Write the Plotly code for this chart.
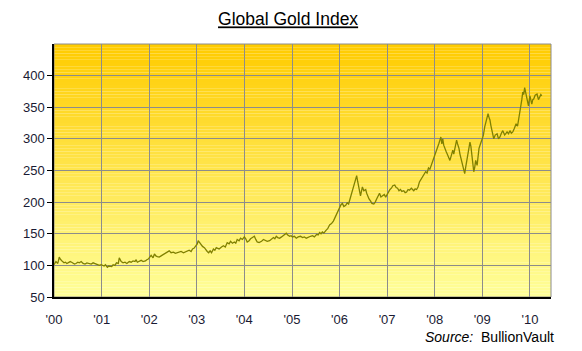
import plotly.graph_objects as go
import pandas as pd
import numpy as np

# Time as decimal years, index values
years = [
    2000.00, 2000.02, 2000.04, 2000.08, 2000.11, 2000.13, 2000.15, 2000.18, 2000.21, 2000.24,
    2000.27, 2000.30, 2000.34, 2000.37, 2000.40, 2000.43, 2000.46, 2000.50, 2000.53, 2000.57,
    2000.61, 2000.65, 2000.69, 2000.73, 2000.78, 2000.82, 2000.86, 2000.90, 2000.95, 2000.99,
    2001.05, 2001.08, 2001.12, 2001.15, 2001.18, 2001.21, 2001.24, 2001.28, 2001.31, 2001.35,
    2001.37, 2001.39, 2001.41, 2001.45, 2001.49, 2001.53, 2001.58, 2001.62, 2001.66, 2001.70,
    2001.72, 2001.75, 2001.79, 2001.83, 2001.87, 2001.92, 2001.95, 2001.98,
    2002.04, 2002.08, 2002.11, 2002.14, 2002.17, 2002.21, 2002.25, 2002.30, 2002.34, 2002.38,
    2002.42, 2002.46, 2002.51, 2002.55, 2002.59, 2002.63, 2002.67, 2002.72, 2002.76, 2002.80,
    2002.84, 2002.88, 2002.91, 2002.94, 2002.97,
    2003.01, 2003.03, 2003.06, 2003.09, 2003.12, 2003.16, 2003.19, 2003.22, 2003.25, 2003.28,
    2003.31, 2003.35, 2003.38, 2003.41, 2003.44, 2003.47, 2003.52, 2003.56, 2003.60, 2003.64,
    2003.68, 2003.71, 2003.75, 2003.79, 2003.82, 2003.85, 2003.89, 2003.92, 2003.96,
    2004.00, 2004.03, 2004.06, 2004.10, 2004.13, 2004.17, 2004.21, 2004.24, 2004.27, 2004.31,
    2004.36, 2004.40, 2004.44, 2004.48, 2004.53, 2004.57, 2004.61, 2004.64, 2004.67, 2004.70,
    2004.74, 2004.78, 2004.82, 2004.85, 2004.88, 2004.91, 2004.95, 2004.98,
    2005.01, 2005.05, 2005.09, 2005.13, 2005.18, 2005.22, 2005.26, 2005.30, 2005.35, 2005.39,
    2005.43, 2005.47, 2005.52, 2005.55, 2005.58, 2005.61, 2005.64, 2005.67, 2005.71, 2005.75,
    2005.79, 2005.83, 2005.87, 2005.90, 2005.94, 2005.97,
    2006.00, 2006.03, 2006.06, 2006.09, 2006.13, 2006.16, 2006.19, 2006.22, 2006.25, 2006.28,
    2006.32, 2006.34, 2006.36, 2006.38, 2006.40, 2006.42, 2006.44, 2006.46, 2006.48, 2006.51,
    2006.55, 2006.57, 2006.59, 2006.62, 2006.65, 2006.68, 2006.72, 2006.75, 2006.78, 2006.81,
    2006.84, 2006.87, 2006.91, 2006.94, 2006.97,
    2007.00, 2007.03, 2007.06, 2007.09, 2007.12, 2007.16, 2007.19, 2007.22, 2007.25, 2007.28,
    2007.31, 2007.35, 2007.38, 2007.41, 2007.44, 2007.47, 2007.51, 2007.56, 2007.59, 2007.62,
    2007.65, 2007.68, 2007.71, 2007.75, 2007.78, 2007.81, 2007.84, 2007.87, 2007.90, 2007.94,
    2007.97,
    2008.00, 2008.03, 2008.06, 2008.09, 2008.11, 2008.13, 2008.15, 2008.17, 2008.19, 2008.21,
    2008.24, 2008.27, 2008.30, 2008.32, 2008.35, 2008.38, 2008.40, 2008.42, 2008.44, 2008.46,
    2008.48, 2008.51, 2008.53, 2008.55, 2008.57, 2008.59, 2008.61, 2008.63, 2008.65, 2008.67,
    2008.70, 2008.72, 2008.74, 2008.76, 2008.78, 2008.80, 2008.82, 2008.84, 2008.86, 2008.89,
    2008.93, 2008.96, 2008.99,
    2009.02, 2009.05, 2009.07, 2009.09, 2009.12, 2009.14, 2009.16, 2009.18, 2009.21, 2009.24,
    2009.27, 2009.31, 2009.34, 2009.37, 2009.40, 2009.43, 2009.47, 2009.52, 2009.55, 2009.58,
    2009.61, 2009.64, 2009.67, 2009.71, 2009.74, 2009.77, 2009.79, 2009.81, 2009.83, 2009.85,
    2009.87, 2009.89, 2009.91, 2009.94, 2009.97,
    2010.00, 2010.02, 2010.04, 2010.06, 2010.08, 2010.11, 2010.15, 2010.18, 2010.21, 2010.23,
    2010.25,
]
index_values = [
    101, 104, 106, 103, 113, 110, 108, 106, 104, 105,
    103, 104, 106, 105, 104, 102, 103, 105, 104, 106,
    103, 102, 104, 103, 102, 104, 103, 102, 100, 101,
    99, 101, 97, 99, 99, 98, 101, 100, 104, 103,
    112, 108, 106, 104, 105, 103, 106, 105, 107, 106,
    109, 105, 107, 108, 106, 107, 109, 110,
    116, 112, 118, 115, 114, 113, 115, 117, 119, 121,
    123, 120, 121, 119, 120, 122, 122, 120, 121, 123,
    124, 122, 126, 127, 130,
    134, 139, 136, 133, 130, 128, 124, 122, 120, 123,
    120, 126, 124, 128, 127, 126, 129, 131, 129, 136,
    134, 138, 135, 137, 135, 141, 139, 143, 141,
    145, 142, 137, 139, 142, 144, 146, 141, 137, 136,
    138, 141, 140, 138, 139, 141, 144, 142, 146, 144,
    143, 145, 148, 150, 151, 148, 146, 147,
    145, 146, 143, 145, 146, 144, 145, 143, 144, 146,
    147, 145, 149, 148, 152, 150, 153, 151, 155, 158,
    164, 166, 170, 175, 180, 184,
    190, 196, 198, 193, 195, 199, 197, 205, 215, 222,
    232, 238, 242, 233, 225, 216, 210, 217, 224, 218,
    220, 214, 210, 205, 202, 198, 197, 200, 205, 210,
    214, 208, 210, 212, 208,
    212, 217, 220, 222, 226, 227, 223, 222, 218, 220,
    217, 218, 215, 216, 220, 219, 222, 218, 221, 220,
    224, 232, 236, 240, 244, 248, 246, 254, 252, 260,
    266,
    275, 280, 287, 293, 298, 303, 292, 300, 290, 285,
    280, 275, 270, 266, 274, 282, 276, 284, 290, 298,
    292, 285, 276, 269, 262, 256, 250, 245, 255, 265,
    276, 285, 295, 288, 275, 258, 248, 255, 266, 258,
    285, 292, 298,
    305, 319, 325, 330, 340, 334, 330, 321, 312, 300,
    306, 308, 300, 303, 309, 313, 306, 311, 308, 313,
    309, 311, 316, 324, 320, 332, 340, 350, 362, 374,
    370, 381, 372, 360, 352,
    368, 360, 355, 362, 363, 369, 371, 362, 366, 370,
    368,
]

year_ticks = list(range(2000, 2011))
y_ticks = [50, 100, 150, 200, 250, 300, 350, 400]
y_range = [50, 450]
title_text = "Global Gold Index"
source_label = "Source:"
source_name = "BullionVault"


def to_date(y):
    yr = int(np.floor(y))
    start = pd.Timestamp(year=yr, month=1, day=1)
    end = pd.Timestamp(year=yr + 1, month=1, day=1)
    return start + (end - start) * (y - yr)


dates = [to_date(y) for y in years]
tick_dates = [pd.Timestamp(year=y, month=1, day=1) for y in year_ticks]
x_range = [pd.Timestamp("2000-01-01"), pd.Timestamp("2010-06-12")]

fig = go.Figure()
fig.add_trace(go.Scatter(
    x=dates, y=index_values, mode="lines",
    line=dict(color="#808000", width=1.3),
    showlegend=False, hoverinfo="skip",
))

# vertical gradient background (gold at top -> pale yellow at bottom)
shapes = []
n = 80
top = np.array([255, 204, 0])
bot = np.array([255, 255, 153])
for i in range(n):
    f = i / (n - 1)
    c = top * (1 - f) + bot * f
    shapes.append(dict(
        type="rect", xref="paper", yref="paper", x0=0, x1=1,
        y0=1 - (i + 1) / n, y1=1 - i / n,
        fillcolor="rgb(%d,%d,%d)" % tuple(c.astype(int)),
        line=dict(width=0), layer="below",
    ))
shapes.append(dict(
    type="rect", xref="paper", yref="paper", x0=0, x1=1, y0=0, y1=1,
    line=dict(color="#8C8C8C", width=1), layer="below",
))

font_family = "Liberation Sans, Arial, sans-serif"
grid_color = "#8C8C8C"

fig.update_layout(
    width=582, height=351,
    margin=dict(l=54, r=31, t=44, b=54),
    paper_bgcolor="white",
    plot_bgcolor="rgba(0,0,0,0)",
    shapes=shapes,
    title=dict(
        text="<u>" + title_text + "</u>",
        x=0.471, xref="paper", xanchor="center",
        y=0.945, yref="container", yanchor="middle",
        font=dict(family=font_family, size=17.5, color="black"),
    ),
    xaxis=dict(
        type="date", range=x_range,
        tickvals=tick_dates, tickformat="'%y",
        showgrid=True, gridcolor=grid_color, gridwidth=1,
        showline=True, linecolor="black", linewidth=1.5,
        ticks="", ticklabelstandoff=10,
        tickfont=dict(family=font_family, size=13, color="#1A1A33"),
        zeroline=False,
    ),
    yaxis=dict(
        range=y_range, tickvals=y_ticks,
        showgrid=True, gridcolor=grid_color, gridwidth=1,
        showline=True, linecolor="black", linewidth=1.5,
        ticks="outside", ticklen=5, tickcolor="black",
        tickfont=dict(family=font_family, size=13, color="#1A1A33"),
        zeroline=False,
    ),
    annotations=[
        dict(
            text="<i>" + source_label + "</i>  " + source_name,
            xref="paper", yref="paper", x=1.01, y=-0.158,
            xanchor="right", yanchor="middle", showarrow=False,
            font=dict(family=font_family, size=14, color="black"),
        )
    ],
)

fig.write_html("out.html")
